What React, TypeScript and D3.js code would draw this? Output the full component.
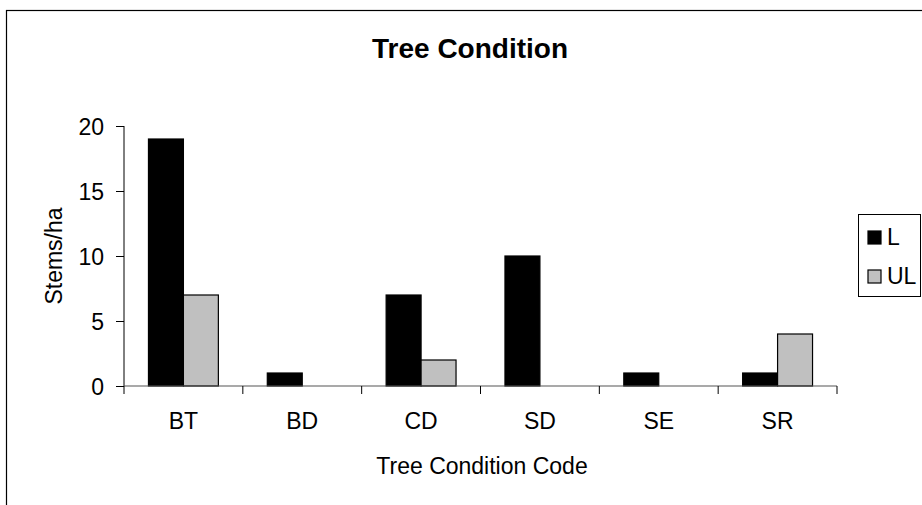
import { useEffect, useRef } from "react";
import * as d3 from "d3";

const categories = ["BT", "BD", "CD", "SD", "SE", "SR"];
const seriesNames = ["L", "UL"];
const valuesL = [19, 1, 7, 10, 1, 1];
const valuesUL = [7, 0, 2, 0, 0, 4];
const yTicks = [0, 5, 10, 15, 20];
const colors = ["#000000", "#c0c0c0"];

const FONT = "Arial, 'Liberation Sans', sans-serif";

const App = () => {
  const svgRef = useRef<SVGSVGElement | null>(null);

  useEffect(() => {
    if (!svgRef.current) return;
    const svg = d3.select(svgRef.current);
    svg.selectAll("*").remove();

    // plot area
    const left = 124;
    const right = 837;
    const top = 126;
    const bottom = 386;

    // outer chart border (runs past the window on right/bottom)
    svg
      .append("rect")
      .attr("x", 6.5)
      .attr("y", 10.5)
      .attr("width", 1000)
      .attr("height", 600)
      .attr("fill", "white")
      .attr("stroke", "#000")
      .attr("stroke-width", 1.2);

    const x0 = d3.scaleBand().domain(categories).range([left, right]).paddingInner(0).paddingOuter(0);
    const x1 = d3.scaleBand().domain(seriesNames).range([0, x0.bandwidth()]).paddingInner(0).paddingOuter(0.7);
    const y = d3.scaleLinear().domain([0, 20]).range([bottom, top]);

    const data = categories.map((c, i) => ({ c, vals: [valuesL[i], valuesUL[i]] }));

    // bars
    const g = svg.append("g");
    data.forEach((d) => {
      d.vals.forEach((v, si) => {
        if (v <= 0) return;
        g.append("rect")
          .attr("x", (x0(d.c) || 0) + (x1(seriesNames[si]) || 0))
          .attr("y", y(v))
          .attr("width", x1.bandwidth())
          .attr("height", y(0) - y(v))
          .attr("fill", colors[si])
          .attr("stroke", "#000")
          .attr("stroke-width", 1.2);
      });
    });

    // Y axis
    const yAxis = svg
      .append("g")
      .attr("transform", `translate(${left}, 0)`)
      .call(d3.axisLeft(y).tickValues(yTicks).tickSize(8).tickPadding(12));
    yAxis.select(".domain").attr("stroke", "#000").attr("d", `M0,${top}V${bottom}`);
    yAxis.selectAll(".tick line").attr("stroke", "#000");
    yAxis
      .selectAll("text")
      .style("font-family", FONT)
      .style("font-size", "23px")
      .attr("fill", "#000")
      .attr("dy", "0.36em");

    // X axis
    const xAxis = svg.append("g").attr("transform", `translate(0, ${bottom})`);
    xAxis
      .append("line")
      .attr("x1", left)
      .attr("x2", right)
      .attr("stroke", "#555")
      .attr("stroke-width", 1.2);
    const tickXs = categories.map((c) => x0(c) || 0).concat([right]);
    xAxis
      .selectAll("line.tick")
      .data(tickXs)
      .enter()
      .append("line")
      .attr("class", "tick")
      .attr("x1", (d) => d)
      .attr("x2", (d) => d)
      .attr("y1", 0)
      .attr("y2", 8)
      .attr("stroke", "#000");
    xAxis
      .selectAll("text")
      .data(categories)
      .enter()
      .append("text")
      .attr("x", (d) => (x0(d) || 0) + x0.bandwidth() / 2)
      .attr("y", 43)
      .attr("text-anchor", "middle")
      .style("font-family", FONT)
      .style("font-size", "23px")
      .text((d) => d);

    // titles
    svg
      .append("text")
      .attr("x", 470)
      .attr("y", 58)
      .attr("text-anchor", "middle")
      .style("font-family", FONT)
      .style("font-size", "28px")
      .style("font-weight", "bold")
      .text("Tree Condition");

    svg
      .append("text")
      .attr("x", 482)
      .attr("y", 474)
      .attr("text-anchor", "middle")
      .style("font-family", FONT)
      .style("font-size", "23px")
      .text("Tree Condition Code");

    svg
      .append("text")
      .attr("transform", `translate(62, ${(top + bottom) / 2}) rotate(-90)`)
      .attr("text-anchor", "middle")
      .style("font-family", FONT)
      .style("font-size", "23px")
      .text("Stems/ha");

    // legend
    const legend = svg.append("g");
    legend
      .append("rect")
      .attr("x", 858.5)
      .attr("y", 214.5)
      .attr("width", 62)
      .attr("height", 82)
      .attr("fill", "white")
      .attr("stroke", "#000")
      .attr("stroke-width", 1);
    seriesNames.forEach((s, i) => {
      const cy = 237 + i * 39;
      legend
        .append("rect")
        .attr("x", 868)
        .attr("y", cy - 6)
        .attr("width", 13)
        .attr("height", 13)
        .attr("fill", colors[i])
        .attr("stroke", "#000")
        .attr("stroke-width", 1.2);
      legend
        .append("text")
        .attr("x", 887)
        .attr("y", cy + 8)
        .style("font-family", FONT)
        .style("font-size", "23px")
        .text(s);
    });
  }, []);

  return (
    <div style={{ position: "absolute", left: 0, top: 0, width: 922, height: 505, overflow: "hidden" }}>
      <svg ref={svgRef} width={922} height={505} style={{ display: "block", background: "#fff" }}></svg>
    </div>
  );
};

export default App;
